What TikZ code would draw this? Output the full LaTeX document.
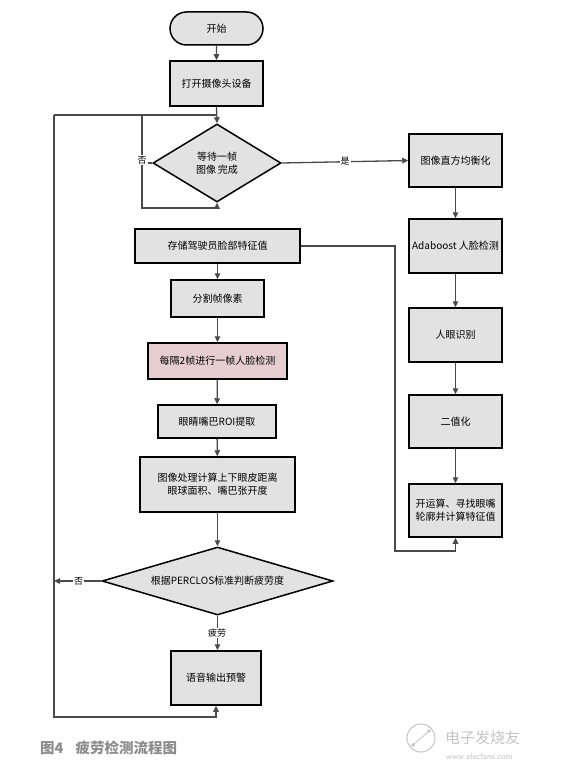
\documentclass[tikz,border=0pt]{standalone}
\usepackage{fontspec}
\newfontfamily\cjk{Noto Sans CJK SC}
\usetikzlibrary{shapes.geometric,shapes.misc,arrows.meta}
\definecolor{boxfill}{HTML}{E2E2E2}
\definecolor{pinkfill}{HTML}{E6CDCF}
\definecolor{linec}{HTML}{4A4A4A}
\definecolor{capgray}{HTML}{8C8C8C}
\definecolor{wmgray}{HTML}{C4C4C4}
\begin{document}
\begin{tikzpicture}[x=1pt,y=-1pt,
  txt/.style={font=\cjk\fontsize{10}{13}\selectfont},
  box/.style={txt,draw=black,line width=1.5pt,fill=boxfill,inner sep=0pt,align=center},
  term/.style={box,rounded rectangle},
  dec/.style={box,diamond,inner sep=0pt},
  conn/.style={draw=linec,line width=1.3pt},
  arr/.style={conn,-{Triangle[length=6pt,width=5.5pt]}},
  lbl/.style={font=\cjk\fontsize{9}{10}\selectfont,fill=white,inner sep=1pt}
]
\fill[white] (0,0) rectangle (564,765);
\useasboundingbox (0,0) rectangle (564,765);

% left column
\node[term,minimum width=93pt,minimum height=33pt] (start) at (216.5,28.5) {开始};
\node[box,minimum width=93pt,minimum height=45pt] (cam) at (216.5,83.5) {打开摄像头设备};
\node[dec,aspect=1.64,minimum width=128pt,minimum height=78pt] (wait) at (217,163) {等待一帧\\图像\,完成};
\node[box,minimum width=165pt,minimum height=34pt] (store) at (217.5,246) {存储驾驶员脸部特征值};
\node[box,minimum width=93pt,minimum height=37pt] (split) at (217.5,298.5) {分割帧像素};
\node[box,fill=pinkfill,minimum width=139pt,minimum height=36pt] (every) at (217.5,361) {每隔2帧进行一帧人脸检测};
\node[box,minimum width=118pt,minimum height=33pt] (roi) at (217,421.5) {眼睛嘴巴ROI提取};
\node[box,minimum width=155pt,minimum height=55pt] (proc) at (217.5,484.5) {图像处理计算上下眼皮距离\\眼球面积、嘴巴张开度};
\node[dec,aspect=3.4,minimum width=231pt,minimum height=68pt] (perc) at (217.5,581) {根据PERCLOS标准判断疲劳度};
\node[box,minimum width=90pt,minimum height=54pt] (voice) at (216,678) {语音输出预警};

% right column
\node[box,minimum width=93pt,minimum height=53pt] (eq) at (455.5,160.5) {图像直方均衡化};
\node[box,minimum width=93pt,minimum height=54pt] (ada) at (455.5,246) {Adaboost 人脸检测};
\node[box,minimum width=93pt,minimum height=54pt] (eye) at (455.5,335) {人眼识别};
\node[box,minimum width=93pt,minimum height=53pt] (bin) at (455.5,421.5) {二值化};
\node[box,minimum width=93pt,minimum height=53pt] (open) at (455.5,510.5) {开运算、寻找眼嘴\\轮廓并计算特征值};

% helper coordinates
\coordinate (tl) at (54,115);
\coordinate (bl) at (54,717);
\coordinate (nt) at (142,115);
\coordinate (nm) at (142,163);
\coordinate (nb) at (142,208);
\coordinate (rt) at (395,246);
\coordinate (rb) at (395,551);

% connectors
\draw[arr] (start) -- (cam);
\draw[arr] (cam.south) -- (wait.north);
\draw[conn] (tl) -- (tl -| wait.north);
\draw[conn] (wait.west) -- (nm);
\draw[arr] (nt) -- (nb) -| (wait.south);
\node[lbl] (no1) at (142,160) {否};
\draw[arr] (wait.east) -- node[lbl] (yes) {是} (eq.west);
\draw[arr] (eq) -- (ada);
\draw[arr] (ada) -- (eye);
\draw[arr] (eye) -- (bin);
\draw[arr] (bin) -- (open);
\draw[arr] (store.east) -- (rt) -- (rb) -| (open.south);
\draw[arr] (store) -- (split);
\draw[arr] (split) -- (every);
\draw[arr] (every) -- (roi);
\draw[arr] (roi) -- (proc);
\draw[arr] (proc.south) -- (perc.north);
\draw[arr] (perc.south) -- (perc.south |- voice.north);
\node[lbl] (tired) at (217,633) {疲劳};
\draw[arr] (perc.west) -- node[lbl,pos=0.48] (no2) {否} (perc.west -| tl);
\draw[arr] (tl) -- (bl) -| (voice.south);

% caption
\node[anchor=west,text=capgray,font=\cjk\bfseries\fontsize{14.5}{16}\selectfont,inner sep=0pt] (cap) at (40,748) {图4\hspace{12pt}疲劳检测流程图};

% watermark
\draw[wmgray,line width=1pt] (421,738) circle (14);
\draw[wmgray,line width=0.8pt] (413,745) -- (429,731);
\fill[wmgray] (413,745) circle (1.8) (429,731) circle (1.8);
\node[anchor=west,text=wmgray,font=\cjk\fontsize{15}{16}\selectfont,inner sep=0pt] (wm1) at (445,738) {电子发烧友};
\node[anchor=west,text=wmgray,font=\sffamily\fontsize{8.5}{9}\selectfont,inner sep=0pt] (wm2) at (446,757) {www.elecfans.com};
\end{tikzpicture}
\end{document}
